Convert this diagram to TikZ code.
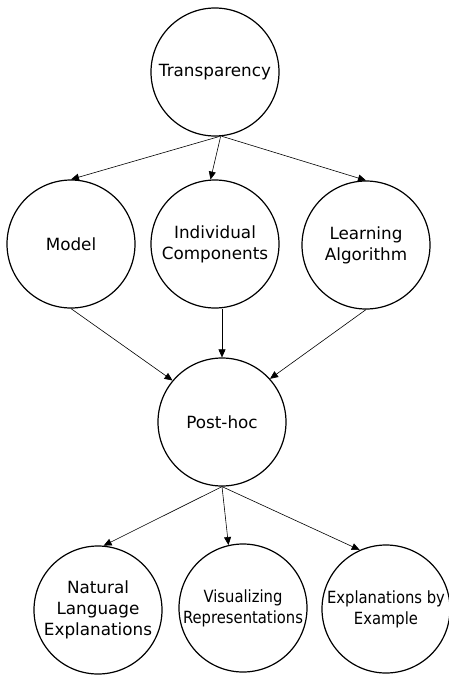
\documentclass[tikz,border=0pt]{standalone}
\usepackage{fontspec}
\setmainfont{DejaVu Sans}
\newfontfamily\condfont[FakeStretch=0.88]{DejaVu Sans}
\usetikzlibrary{arrows.meta}
\begin{document}
\begin{tikzpicture}[x=1pt,y=-1pt,
  bubble/.style={draw=black,circle,line width=1.2pt,inner sep=0pt,minimum size=128pt,align=center,font=\fontsize{16.8}{21}\selectfont},
  condbubble/.style={bubble,font=\condfont\fontsize{16.8}{21}\selectfont},
  link/.style={draw=black,line width=0.6pt,-{Triangle[length=8pt,width=7pt]}}]
\useasboundingbox (0,0) rectangle (449,675);
\node[bubble] (t) at (215,72) {Transparency};
\node[bubble] (m) at (71,244) {Model};
\node[bubble] (ic) at (215,244) {Individual\\Components};
\node[bubble] (la) at (366,245) {Learning\\Algorithm};
\node[bubble] (p) at (222,422) {Post-hoc};
\node[bubble] (nle) at (98,610) {Natural\\Language\\Explanations};
\node[condbubble] (vr) at (243,608) {Visualizing\\Representations};
\node[condbubble] (ebe) at (386,609) {Explanations by\\Example};
\draw[link] (t.274) -- (m.north);
\draw[link] (t.275) -- (ic.94);
\draw[link] (t.276) -- (la.north);
\draw[link] (m.south) -- (p.140);
\draw[link] (p.north |- ic.south) -- (p.north);
\draw[link] (la.south) -- (p.42);
\draw[link] (p.south) -- (nle.85);
\draw[link] (p.south) -- (vr.103);
\draw[link] (p.south) -- (ebe.114);
\end{tikzpicture}
\end{document}
